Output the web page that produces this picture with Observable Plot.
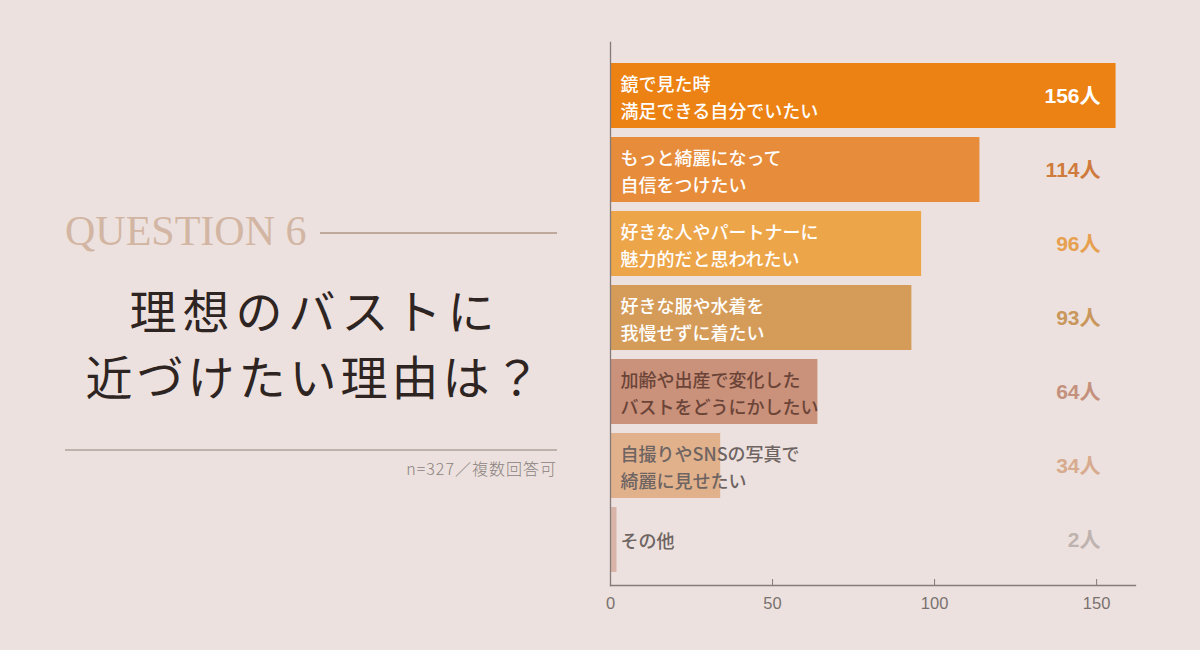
<!DOCTYPE html>
<html><head><meta charset="utf-8">
<script src="https://cdn.jsdelivr.net/npm/d3@7"></script>
<script src="https://cdn.jsdelivr.net/npm/@observablehq/plot@0.6"></script>
<style>
html,body{margin:0;padding:0;background:#ece1de;}
#wrap{position:relative;width:1200px;height:650px;background:#ece1de;overflow:hidden;font-family:"Noto Sans CJK JP",sans-serif;}
#chart{position:absolute;left:0;top:0;}
.q{position:absolute;left:65px;top:205px;font-family:"Liberation Serif",serif;font-size:42px;color:#d2b6a3;line-height:52px;font-weight:400;}
.qline{position:absolute;left:320px;top:232px;width:237px;height:1.5px;background:#bfa99c;}
.title{position:absolute;left:65px;width:500px;text-align:center;font-size:47px;line-height:68px;color:#2e2422;font-weight:400;white-space:nowrap;}
.t1{top:275px;letter-spacing:6px;}
.t2{top:341px;letter-spacing:4px;}
.bline{position:absolute;left:65px;top:449px;width:492px;height:1.5px;background:#bfb1ab;}
.cap{position:absolute;right:643px;top:456px;font-size:16px;color:#8b817e;letter-spacing:1px;font-weight:300;}
</style></head>
<body><div id="wrap">
<div class="q">QUESTION 6</div><div class="qline"></div>
<div class="title t1">理想のバストに</div>
<div class="title t2">近づけたい理由は？</div>
<div class="bline"></div>
<div class="cap">n=327／複数回答可</div>
<div id="chart"></div>
</div>
<script>
const categories = [
  "鏡で見た時\n満足できる自分でいたい",
  "もっと綺麗になって\n自信をつけたい",
  "好きな人やパートナーに\n魅力的だと思われたい",
  "好きな服や水着を\n我慢せずに着たい",
  "加齢や出産で変化した\nバストをどうにかしたい",
  "自撮りやSNSの写真で\n綺麗に見せたい",
  "その他"
];
const values = [156, 114, 96, 93, 64, 34, 2];
const unit = "人";
const xTicks = [0, 50, 100, 150];

const barColors = ["#ec8214", "#e68c3a", "#eda54a", "#d59c59", "#ca917b", "#e1b18c", "#d9b5a9"];
const labelColors = ["#ffffff", "#ffffff", "#ffffff", "#ffffff", "#6b4438", "#6e6462", "#6e6462"];
const valueColors = ["#ffffff", "#cf7b3d", "#e6a04f", "#c9975c", "#c4917d", "#d8ab8e", "#bfb3b0"];

const data = categories.map((c, i) => ({label: c, value: values[i], i}));

const chart = Plot.plot({
  width: 1200, height: 650,
  marginLeft: 610, marginRight: 65, marginTop: 42, marginBottom: 65,
  style: {background: "transparent", fontFamily: "'Liberation Sans','Noto Sans CJK JP',sans-serif"},
  x: {domain: [0, 162], label: null},
  y: {domain: categories, axis: null, paddingInner: 0.1275, paddingOuter: 0.2, align: 0.6},
  color: {domain: categories, range: barColors},
  marks: [
    Plot.barX(data, {x: "value", y: "label", fill: "label"}),
    Plot.frame({anchor: "left", stroke: "#857b78", strokeWidth: 1.3}),
    Plot.frame({anchor: "bottom", stroke: "#857b78", strokeWidth: 1.3}),
    Plot.axisX({ticks: xTicks, tickSize: 6, dy: -6, tickFormat: () => "", stroke: "#857b78", label: null}),
    Plot.axisX({ticks: xTicks, tickSize: 0, tickPadding: 12, fontSize: 16.5, color: "#7a716f", label: null,
      fontFamily: "'Liberation Sans',sans-serif"}),
    Plot.text(data, {
      x: 0, y: "label", text: "label", dx: 10, textAnchor: "start",
      fill: d => labelColors[d.i], fontSize: 18, fontWeight: 500, lineHeight: 1.46,
      fontFamily: "'Noto Sans CJK JP',sans-serif"
    }),
    Plot.text(data, {
      frameAnchor: "right", y: "label", text: d => d.value + unit, dx: -35, textAnchor: "end",
      fill: d => valueColors[d.i], fontSize: 21, fontWeight: 700, letterSpacing: -1.5,
      fontFamily: "'Liberation Sans','Noto Sans CJK JP',sans-serif"
    })
  ]
});
document.getElementById("chart").appendChild(chart);
</script>
</body></html>
